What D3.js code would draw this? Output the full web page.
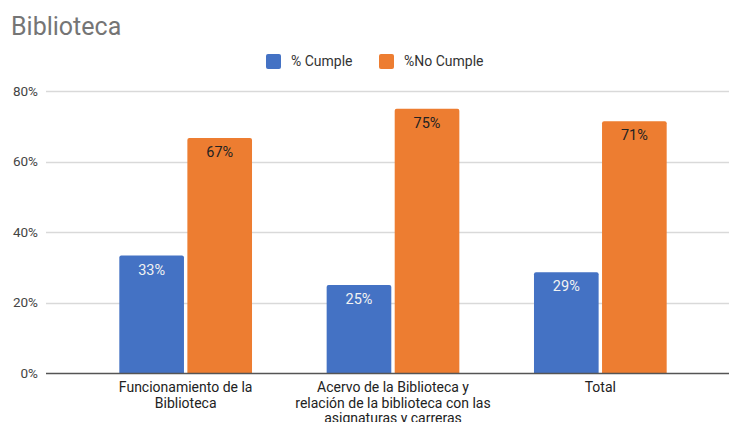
<!DOCTYPE html>
<html><head><meta charset="utf-8">
<script src="https://cdn.jsdelivr.net/npm/d3@7"></script>
<style>body{margin:0;background:#fff;}svg{display:block;font-family:Roboto,"Noto Sans",sans-serif;}</style>
</head><body><svg id="c" width="729" height="422"></svg>
<script>
const categories = [["Funcionamiento de la","Biblioteca"],["Acervo de la Biblioteca y","relación de la biblioteca con las","asignaturas y carreras"],["Total"]];
const seriesNames = ["% Cumple","%No Cumple"];
const cumple = [0.333,0.25,0.286];
const noCumple = [0.667,0.75,0.714];
const colors = ["#4472C4","#ED7D31"];
const yTicks = [0,0.2,0.4,0.6,0.8];

const svg = d3.select("#c");
const y = d3.scaleLinear().domain([0,0.8]).range([373,91]);
const x0 = d3.scaleBand().domain(d3.range(categories.length)).range([82,704]).paddingInner(0.36).paddingOuter(0.18);
const x1 = d3.scaleBand().domain([0,1]).range([0,x0.bandwidth()]).paddingInner(0.05);

svg.append("text").attr("x",11).attr("y",35).attr("font-size",25).attr("fill","#757575").text("Biblioteca");

// grid
svg.append("g").selectAll("line").data(yTicks.filter(d=>d>0)).join("line")
  .attr("x1",46).attr("x2",729).attr("y1",d=>Math.round(y(d))+0.5).attr("y2",d=>Math.round(y(d))+0.5)
  .attr("stroke","#d9d9d9").attr("stroke-width",1.5);

const yAxis = d3.axisLeft(y).tickValues(yTicks).tickFormat(d3.format(".0%")).tickSize(0).tickPadding(8);
const ga = svg.append("g").attr("transform","translate(46,0)").call(yAxis);
ga.select(".domain").remove();
ga.selectAll("text").attr("font-size",13.5).attr("fill","#444").attr("font-family","Roboto,sans-serif");

const vals = [cumple,noCumple];
const groups = svg.append("g").selectAll("g").data(categories.map((c,i)=>i)).join("g")
  .attr("transform",i=>`translate(${x0(i)},0)`);
function barPath(x,w,top,bottom,r){
  return `M${x},${bottom}V${top+r}Q${x},${top} ${x+r},${top}H${x+w-r}Q${x+w},${top} ${x+w},${top+r}V${bottom}Z`;
}
groups.selectAll("path").data(i=>[0,1].map(s=>({s,v:vals[s][i]}))).join("path")
  .attr("d",d=>barPath(x1(d.s),x1.bandwidth(),y(d.v),y(0),2))
  .attr("fill",d=>colors[d.s]);
groups.selectAll("text.lbl").data(i=>[0,1].map(s=>({s,v:vals[s][i]}))).join("text")
  .attr("class","lbl")
  .attr("x",d=>x1(d.s)+x1.bandwidth()/2).attr("y",d=>y(d.v)+19)
  .attr("text-anchor","middle").attr("font-size",14.5)
  .attr("fill",d=>d.s===0?"#f2f2f2":"#222")
  .text(d=>d3.format(".0%")(d.v));

// baseline
svg.append("line").attr("x1",46).attr("x2",729).attr("y1",y(0)+0.5).attr("y2",y(0)+0.5).attr("stroke","#555").attr("stroke-width",1.3);

// x labels
const xl = svg.append("g").selectAll("text").data(categories).join("text")
  .attr("x",(d,i)=>x0(i)+x0.bandwidth()/2).attr("y",392)
  .attr("text-anchor","middle").attr("font-size",14).attr("fill","#222");
xl.selectAll("tspan").data(d=>d).join("tspan")
  .attr("x",function(){return this.parentNode.getAttribute("x");})
  .attr("dy",(d,j)=>j===0?0:15.5).text(d=>d);

// legend
const legX = [266,379];
const lg = svg.append("g").selectAll("g").data(seriesNames).join("g")
  .attr("transform",(d,i)=>`translate(${legX[i]},54)`);
lg.append("rect").attr("width",15).attr("height",15).attr("rx",2).attr("fill",(d,i)=>colors[i]);
lg.append("text").attr("x",25).attr("y",12).attr("font-size",14).attr("fill","#333").text(d=>d);
</script></body></html>
